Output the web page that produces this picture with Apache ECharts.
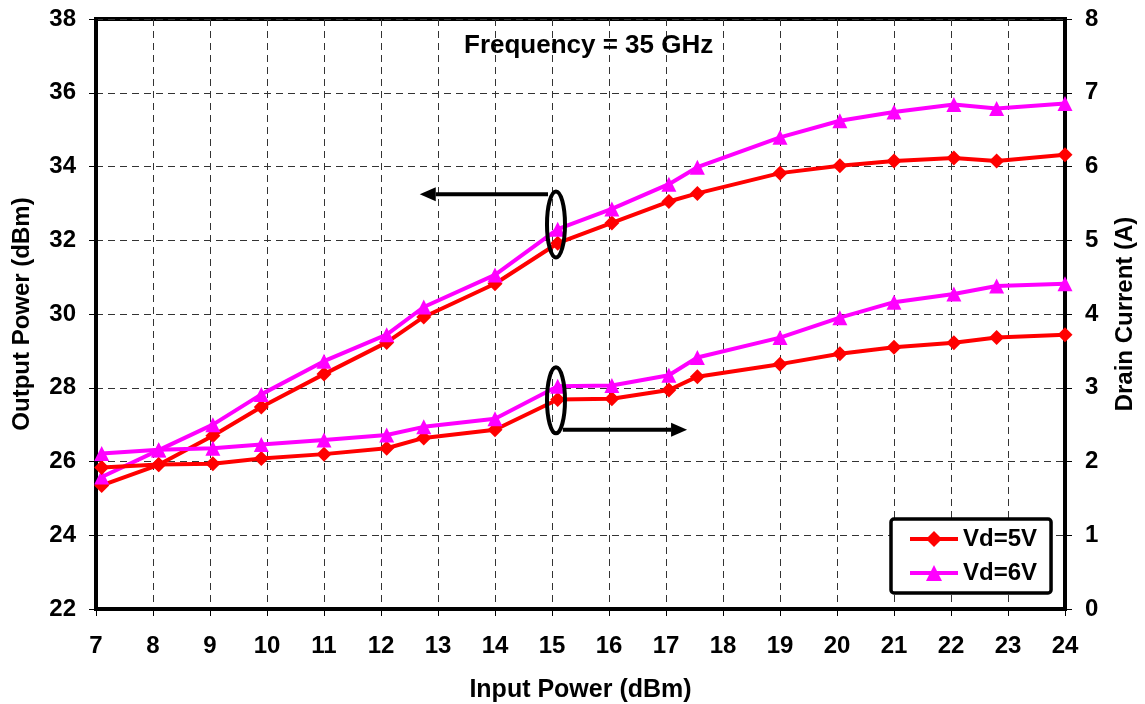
<!DOCTYPE html>
<html>
<head>
<meta charset="utf-8">
<script src="https://cdn.jsdelivr.net/npm/echarts@6/dist/echarts.min.js"></script>
<style>
  html, body { margin: 0; padding: 0; background: #fff; }
  #chart { width: 1145px; height: 704px; }
</style>
</head>
<body>
<div id="chart"></div>
<script>
// ---- data ----
const inputPower = [7.1, 8.1, 9.05, 9.9, 11.0, 12.1, 12.75, 14.0, 15.1, 16.05, 17.05, 17.55, 19.0, 20.05, 21.0, 22.05, 22.8, 24.0];
const pout5V = [25.35, 25.91, 26.70, 27.48, 28.37, 29.23, 29.92, 30.82, 31.92, 32.47, 33.05, 33.27, 33.82, 34.02, 34.15, 34.23, 34.15, 34.32];
const pout6V = [25.58, 26.31, 27.00, 27.82, 28.72, 29.44, 30.19, 31.06, 32.30, 32.85, 33.52, 33.98, 34.79, 35.24, 35.48, 35.68, 35.57, 35.71];
const id5V = [1.92, 1.96, 1.97, 2.04, 2.10, 2.18, 2.32, 2.43, 2.84, 2.85, 2.97, 3.15, 3.32, 3.46, 3.55, 3.61, 3.68, 3.72];
const id6V = [2.11, 2.16, 2.18, 2.23, 2.29, 2.36, 2.47, 2.58, 3.02, 3.03, 3.17, 3.41, 3.68, 3.95, 4.16, 4.27, 4.38, 4.41];
const seriesNames = ['Vd=5V', 'Vd=6V'];
const titleText = 'Frequency = 35 GHz';
const xAxisName = 'Input Power (dBm)';
const yLeftName = 'Output Power (dBm)';
const yRightName = 'Drain Current (A)';

const FONT = '"Liberation Sans", Arial, sans-serif';
const pairs = (xs, ys) => xs.map((x, i) => [x, ys[i]]);

const chart = echarts.init(document.getElementById('chart'), null, { renderer: 'canvas' });

const labelStyle = { color: '#000', fontSize: 24, fontWeight: 'bold', fontFamily: FONT };
const splitLine = { show: true, lineStyle: { color: '#333', width: 1, type: [7, 5] } };
const axisLine = { show: true, lineStyle: { color: '#000', width: 4 } };
const axisTick = { show: true, length: 7, lineStyle: { color: '#000', width: 1 } };

function mkSeries(name, data, yIdx, color, symbol, size) {
  return {
    name: name, type: 'line', yAxisIndex: yIdx, data: data,
    symbol: symbol, symbolSize: size, showSymbol: true,
    lineStyle: { color: color, width: 4 },
    itemStyle: { color: color },
    animation: false, z: 3
  };
}

chart.setOption({
  animation: false,
  backgroundColor: '#fff',
  textStyle: { fontFamily: FONT },
  title: {
    text: titleText, left: 459, top: 28,
    textStyle: { color: '#000', fontSize: 26, fontWeight: 'bold', fontFamily: FONT }
  },
  grid: { left: 96, right: 80, top: 19, bottom: 95, show: true, borderColor: '#000', borderWidth: 4,
          containLabel: false, outerBoundsMode: 'none' },
  legend: {
    orient: 'vertical', left: 891, top: 519,
    padding: [8, 14, 8, 17], itemGap: 10,
    itemWidth: 48, itemHeight: 20,
    borderColor: '#000', borderWidth: 3.5, borderRadius: 3, backgroundColor: '#fff',
    lineStyle: { width: 4 },
    textStyle: { color: '#000', fontSize: 24, fontWeight: 'bold', fontFamily: FONT },
    data: seriesNames
  },
  xAxis: {
    type: 'value', min: 7, max: 24, interval: 1,
    name: xAxisName, nameLocation: 'middle', nameGap: 69,
    nameTextStyle: Object.assign({}, labelStyle, { fontSize: 25 }),
    axisLine: axisLine, axisTick: axisTick, splitLine: splitLine,
    axisLabel: Object.assign({ margin: 25 }, labelStyle)
  },
  yAxis: [
    {
      type: 'value', min: 22, max: 38, interval: 2, position: 'left',
      name: yLeftName, nameLocation: 'middle', nameGap: 62, nameRotate: 90,
      nameTextStyle: labelStyle,
      axisLine: axisLine, axisTick: axisTick, splitLine: splitLine,
      axisLabel: Object.assign({ margin: 20 }, labelStyle)
    },
    {
      type: 'value', min: 0, max: 8, interval: 1, position: 'right',
      name: yRightName, nameLocation: 'middle', nameGap: 48, nameRotate: 90,
      nameTextStyle: labelStyle,
      axisLine: axisLine, axisTick: axisTick, splitLine: { show: false },
      axisLabel: Object.assign({ margin: 20 }, labelStyle)
    }
  ],
  series: [
    mkSeries(seriesNames[0], pairs(inputPower, pout5V), 0, '#ff0000', 'diamond', 15),
    mkSeries(seriesNames[1], pairs(inputPower, pout6V), 0, '#ff00ff', 'triangle', 15),
    mkSeries(seriesNames[0], pairs(inputPower, id5V), 1, '#ff0000', 'diamond', 15),
    mkSeries(seriesNames[1], pairs(inputPower, id6V), 1, '#ff00ff', 'triangle', 15)
  ]
});

// ---- annotations (ellipses + arrows), anchored in data coordinates ----
const toPxL = p => chart.convertToPixel({ xAxisIndex: 0, yAxisIndex: 0 }, p);
const toPxR = p => chart.convertToPixel({ xAxisIndex: 0, yAxisIndex: 1 }, p);

function arrow(start, tip) {
  const dir = tip[0] < start[0] ? -1 : 1;
  const headLen = 16, headHalf = 7;
  const baseX = tip[0] - dir * headLen;
  return [
    { type: 'line', shape: { x1: start[0], y1: start[1], x2: baseX, y2: tip[1] },
      style: { stroke: '#000', lineWidth: 4 }, z: 10 },
    { type: 'polygon', shape: { points: [[tip[0], tip[1]], [baseX, tip[1] - headHalf], [baseX, tip[1] + headHalf]] },
      style: { fill: '#000' }, z: 10 }
  ];
}

const e1 = toPxL([15.07, 32.43]);
const e2 = toPxR([15.07, 2.83]);
const a1s = toPxL([14.93, 33.25]), a1t = toPxL([12.68, 33.25]);
const a2s = toPxR([15.19, 2.43]), a2t = toPxR([17.37, 2.43]);

chart.setOption({
  graphic: [
    { type: 'ellipse', shape: { cx: e1[0], cy: e1[1], rx: 9, ry: 33 }, style: { fill: 'none', stroke: '#000', lineWidth: 4 }, z: 10 },
    { type: 'ellipse', shape: { cx: e2[0], cy: e2[1], rx: 9, ry: 33 }, style: { fill: 'none', stroke: '#000', lineWidth: 4 }, z: 10 }
  ].concat(arrow(a1s, a1t), arrow(a2s, a2t))
});
</script>
</body>
</html>
